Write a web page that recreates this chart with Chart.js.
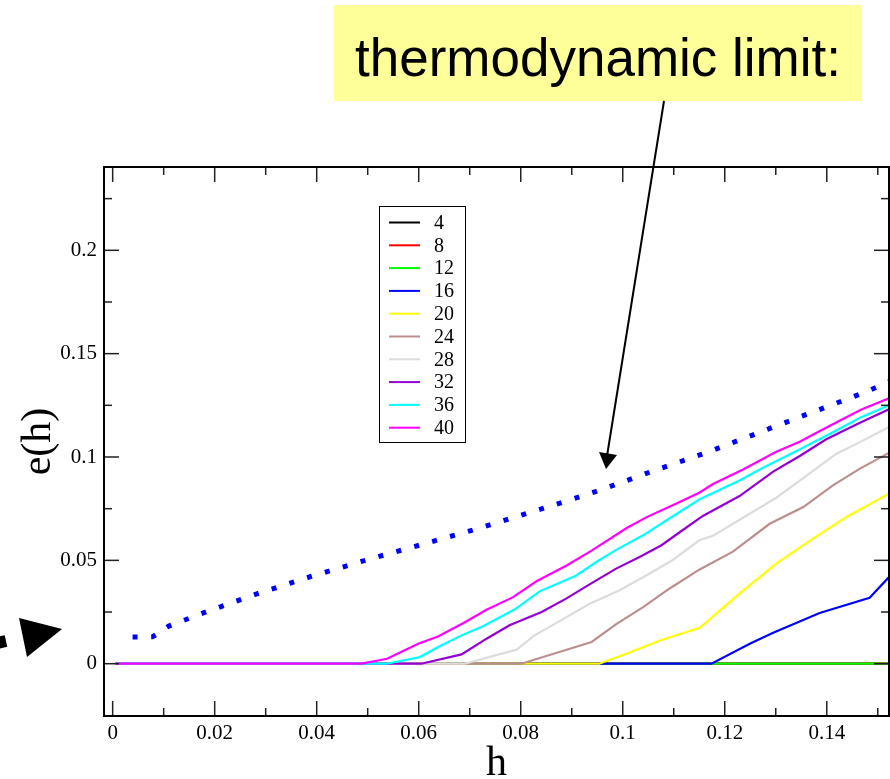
<!DOCTYPE html>
<html>
<head>
<meta charset="utf-8">
<script src="https://cdn.jsdelivr.net/npm/chart.js@4.4.0/dist/chart.umd.min.js"></script>
<style>
  body { margin: 0; background: #fff; }
  #chartContainer { width: 890px; height: 779px; position: relative; }
</style>
</head>
<body>
<div id="chartContainer"><canvas id="chart"></canvas></div>
<script>
const sizes = ["4", "8", "12", "16", "20", "24", "28", "32", "36", "40"]
const colors = ["#000000", "#ff0000", "#00ff00", "#0000ff", "#ffff00", "#bc8f8f", "#dcdcdc", "#9400d3", "#00ffff", "#ff00ff"]

// e(h) for each system size
const h4 = [0.0006, 0.1525]
const e4 = [0, 0]
const h8 = [0.0006, 0.1525]
const e8 = [0, 0]
const h12 = [0.0006, 0.1525]
const e12 = [0, 0]
const h16 = [0.0006, 0.1174, 0.1249, 0.1295, 0.1386, 0.1484, 0.1522]
const e16 = [0, 0, 0.0097, 0.0150, 0.0245, 0.0319, 0.0419]
const h20 = [0.0006, 0.0954, 0.1007, 0.1073, 0.1151, 0.1229, 0.1301, 0.1373, 0.1439, 0.1522]
const e20 = [0, 0, 0.0048, 0.0112, 0.0174, 0.0339, 0.0484, 0.0605, 0.0710, 0.0823]
const h24 = [0.0006, 0.0801, 0.0939, 0.0988, 0.1040, 0.1092, 0.1150, 0.1216, 0.1288, 0.1354, 0.1412, 0.1465, 0.1522]
const e24 = [0, 0, 0.0105, 0.0193, 0.0274, 0.0364, 0.0455, 0.0542, 0.0677, 0.0758, 0.0863, 0.0944, 0.1020]
const h28 = [0.0006, 0.0690, 0.0792, 0.0827, 0.0876, 0.0935, 0.0994, 0.1046, 0.1099, 0.1150, 0.1177, 0.1301, 0.1360, 0.1419, 0.1465, 0.1522]
const e28 = [0, 0, 0.0068, 0.0137, 0.0206, 0.0290, 0.0355, 0.0427, 0.0503, 0.0597, 0.0619, 0.0803, 0.0909, 0.1016, 0.1072, 0.1145]
const h32 = [0.0006, 0.0605, 0.0684, 0.0733, 0.0778, 0.0841, 0.0889, 0.0935, 0.0987, 0.1033, 0.1076, 0.1115, 0.1157, 0.1229, 0.1295, 0.1347, 0.1399, 0.1465, 0.1522]
const e32 = [0, 0, 0.0045, 0.0121, 0.0186, 0.0250, 0.0315, 0.0384, 0.0460, 0.0516, 0.0573, 0.0642, 0.0715, 0.0811, 0.0929, 0.1005, 0.1086, 0.1166, 0.1231]
const h36 = [0.0006, 0.0537, 0.0602, 0.0641, 0.0684, 0.0726, 0.0788, 0.0837, 0.0909, 0.0948, 0.0988, 0.1040, 0.1086, 0.1150, 0.1229, 0.1275, 0.1340, 0.1412, 0.1465, 0.1522]
const e36 = [0, 0, 0.0032, 0.0084, 0.0137, 0.0181, 0.0262, 0.0350, 0.0427, 0.0492, 0.0552, 0.0621, 0.0694, 0.0794, 0.0886, 0.0948, 0.1028, 0.1120, 0.1190, 0.1250]
const h40 = [0.0006, 0.0488, 0.0538, 0.0599, 0.0638, 0.0687, 0.0733, 0.0785, 0.0831, 0.0890, 0.0939, 0.1007, 0.1046, 0.1099, 0.1150, 0.1177, 0.1236, 0.1301, 0.1347, 0.1380, 0.1425, 0.1468, 0.1522]
const e40 = [0, 0, 0.0024, 0.0097, 0.0132, 0.0196, 0.0261, 0.0322, 0.0399, 0.0475, 0.0547, 0.0655, 0.0708, 0.0768, 0.0827, 0.0869, 0.0940, 0.1025, 0.1074, 0.1117, 0.1175, 0.1230, 0.1284]

// thermodynamic limit (dotted)
const hLimit = [0.0039, 0.0078, 0.0110, 0.0179, 0.0284, 0.0389, 0.0495, 0.0602, 0.0708, 0.0849, 0.0955, 0.1059, 0.1164, 0.1267, 0.1371, 0.1475, 0.1522]
const eLimit = [0.0129, 0.0130, 0.0182, 0.0247, 0.0339, 0.0422, 0.0500, 0.0574, 0.0648, 0.0755, 0.0839, 0.0932, 0.1021, 0.1118, 0.1216, 0.1313, 0.1365]

const xTicks = [0, 0.02, 0.04, 0.06, 0.08, 0.1, 0.12, 0.14]
const xMinor = [0.01, 0.03, 0.05, 0.07, 0.09, 0.11, 0.13, 0.15]
const yTicks = [0, 0.05, 0.1, 0.15, 0.2]
const yMinor = [0.025, 0.075, 0.125, 0.175, 0.225]

const hSeries = [h4, h8, h12, h16, h20, h24, h28, h32, h36, h40]
const eSeries = [e4, e8, e12, e16, e20, e24, e28, e32, e36, e40]

function toPoints(hs, es) {
    return hs.map((h, i) => ({ x: h, y: es[i] }))
}

const datasets = sizes.map((label, i) => ({
    label: label,
    data: toPoints(hSeries[i], eSeries[i]),
    borderColor: colors[i],
    borderWidth: 2.2,
    pointRadius: 0,
    tension: 0,
    fill: false,
    order: sizes.length - i
}))

datasets.push({
    label: "limit",
    data: toPoints(hLimit, eLimit),
    borderColor: "#0000ff",
    borderWidth: 5,
    borderDash: [5, 13.6],
    borderCapStyle: "butt",
    pointRadius: 0,
    tension: 0,
    fill: false,
    order: 0
})

function line(ctx, x1, y1, x2, y2) {
    ctx.beginPath()
    ctx.moveTo(x1, y1)
    ctx.lineTo(x2, y2)
    ctx.stroke()
}

const decorations = {
    id: "decorations",
    afterDraw(chart) {
        const ctx = chart.ctx
        const a = chart.chartArea
        const xs = chart.scales.x
        const ys = chart.scales.y
        ctx.save()

        // inward ticks on all four sides
        ctx.strokeStyle = "#222"
        ctx.lineWidth = 1.5
        xTicks.concat(xMinor).forEach(v => {
            const len = xTicks.includes(v) ? 15 : 8
            const px = xs.getPixelForValue(v)
            if (px < a.left || px > a.right) return
            line(ctx, px, a.bottom, px, a.bottom - len)
            line(ctx, px, a.top, px, a.top + len)
        })
        yTicks.concat(yMinor).forEach(v => {
            const len = yTicks.includes(v) ? 15 : 8
            const py = ys.getPixelForValue(v)
            line(ctx, a.left, py, a.left + len, py)
            line(ctx, a.right, py, a.right - len, py)
        })

        // frame
        ctx.strokeStyle = "#000"
        ctx.lineWidth = 2
        ctx.strokeRect(a.left, a.top, a.right - a.left, a.bottom - a.top)

        // legend
        const lx = 379, ly = 206
        ctx.fillStyle = "#fff"
        ctx.fillRect(lx, ly, 86, 236)
        ctx.lineWidth = 1
        ctx.strokeStyle = "#000"
        ctx.strokeRect(lx + 0.5, ly + 0.5, 86, 236)
        ctx.font = "20px 'Liberation Serif'"
        ctx.textBaseline = "middle"
        ctx.textAlign = "left"
        sizes.forEach((s, i) => {
            const y = 222.5 + i * 22.8
            ctx.strokeStyle = colors[i]
            ctx.lineWidth = 2
            line(ctx, 389, y, 420, y)
            ctx.fillStyle = "#000"
            ctx.fillText(s, 434, y + 1)
        })

        // label box
        ctx.fillStyle = "#ffff99"
        ctx.fillRect(334, 5, 528, 96)
        ctx.fillStyle = "#000"
        ctx.font = "53px 'Liberation Sans'"
        ctx.textAlign = "center"
        ctx.textBaseline = "alphabetic"
        ctx.fillText("thermodynamic limit:", 598, 76)

        // arrow to the dotted curve
        ctx.strokeStyle = "#000"
        ctx.lineWidth = 2
        line(ctx, 664, 101, 607, 456)
        ctx.beginPath()
        ctx.moveTo(599, 452)
        ctx.lineTo(617, 455)
        ctx.lineTo(606, 469)
        ctx.closePath()
        ctx.fill()

        // thick arrow coming in from the left
        ctx.lineWidth = 12
        line(ctx, -10, 644.5, 6, 641)
        ctx.beginPath()
        ctx.moveTo(19, 618)
        ctx.lineTo(62, 629)
        ctx.lineTo(27, 657)
        ctx.closePath()
        ctx.fill()

        ctx.restore()
    }
}

const serif = "'Liberation Serif', 'Times New Roman', serif"

new Chart(document.getElementById("chart"), {
    type: "line",
    data: { datasets: datasets },
    options: {
        responsive: true,
        maintainAspectRatio: false,
        animation: false,
        layout: { padding: { top: 167, right: 1, left: 0, bottom: 0 } },
        plugins: { legend: { display: false }, tooltip: { enabled: false } },
        scales: {
            x: {
                type: "linear",
                min: -0.0017,
                max: 0.1522,
                afterBuildTicks: s => { s.ticks = xTicks.map(v => ({ value: v })) },
                afterFit: s => { s.height = 63 },
                grid: { display: false, drawTicks: false },
                border: { display: false },
                ticks: { font: { family: serif, size: 21 }, color: "#000", padding: 5, maxRotation: 0, autoSkip: false, callback: v => String(v) },
                title: { display: true, text: "h", font: { family: serif, size: 42 }, color: "#000", padding: { top: 0, bottom: -10 } }
            },
            y: {
                type: "linear",
                min: -0.0253,
                max: 0.2403,
                afterBuildTicks: s => { s.ticks = yTicks.map(v => ({ value: v })) },
                afterFit: s => { s.width = 104 },
                grid: { display: false, drawTicks: false },
                border: { display: false },
                ticks: { font: { family: serif, size: 21 }, color: "#000", padding: 7, callback: v => String(v) },
                title: { display: true, text: "e(h)", font: { family: serif, size: 42 }, color: "#000", padding: { top: 14, bottom: 0 } }
            }
        }
    },
    plugins: [decorations]
})
</script>
</body>
</html>
